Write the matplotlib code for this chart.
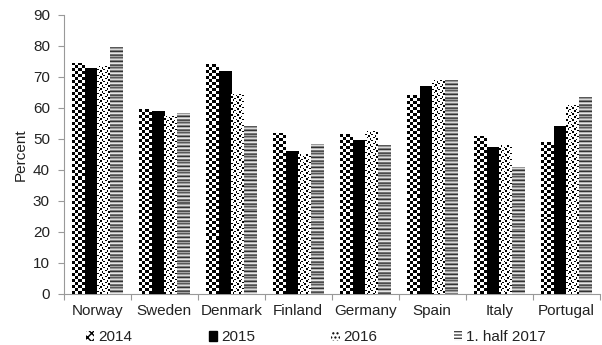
import numpy as np
import matplotlib
matplotlib.use("Agg")
import matplotlib.pyplot as plt
from matplotlib.patches import Patch

plt.rcParams['font.family'] = ['Liberation Sans', 'DejaVu Sans']

countries = ["Norway", "Sweden", "Denmark", "Finland", "Germany", "Spain", "Italy", "Portugal"]
series_names = ["2014", "2015", "2016", "1. half 2017"]
v2014 = [74.5, 59.5, 74.0, 52.0, 51.5, 64.0, 51.0, 49.0]
v2015 = [73.0, 59.0, 72.0, 46.0, 49.5, 67.0, 47.5, 54.0]
v2016 = [73.5, 57.5, 64.5, 45.0, 52.5, 69.0, 48.0, 61.0]
v2017 = [79.5, 58.5, 54.0, 48.5, 48.0, 69.0, 41.0, 63.5]

# texture tiles (1 = white, 0 = black, greys in between)
checker = np.array([[0, 1], [1, 0]], dtype=float)
solid = np.array([[0.0]])
dots = np.array([[1, 0, 1, 1],
                 [1, 1, 1, 0],
                 [0, 1, 1, 1],
                 [1, 1, 0, 1]], dtype=float)
stripes = np.array([[0.35], [0.6], [0.85], [0.5], [0.2], [0.7], [0.9], [0.45], [0.3], [0.65]])
tiles = [(checker, 3.0), (solid, 3.0), (dots, 1.5), (stripes, 1.0)]

fig = plt.figure(figsize=(6.02, 3.45), dpi=100)
ax = fig.add_axes([0.106, 0.148, 0.89, 0.809])

x = np.arange(len(countries))
bw = 0.1875
px_per_x = 0.89 * 602 / 8.0
px_per_y = 0.809 * 345 / 90.0

for i, vals in enumerate([v2014, v2015, v2016, v2017]):
    bars = ax.bar(x + (i - 1.5) * bw, vals, width=bw, color='white',
                  edgecolor='none', zorder=2)
    tile, cell = tiles[i]
    for b in bars:
        bx, bwid, bh = b.get_x(), b.get_width(), b.get_height()
        nx = max(1, int(round(bwid * px_per_x / cell)))
        ny = max(1, int(round(bh * px_per_y / cell)))
        reps = (ny // tile.shape[0] + 1, nx // tile.shape[1] + 1)
        arr = np.tile(tile, reps)[:ny, :nx]
        im = ax.imshow(arr, extent=(bx, bx + bwid, 0, bh), cmap='gray', vmin=0, vmax=1,
                       interpolation='nearest', aspect='auto', origin='upper', zorder=3)
        im.set_clip_path(b)

fs = 11
ax.set_xlim(-0.5, len(countries) - 0.5)
ax.set_ylim(0, 90)
ax.set_yticks(range(0, 91, 10))
ax.set_xticks(x)
ax.set_xticklabels(countries, fontsize=fs)
ax.set_xticks(np.arange(-0.5, len(countries), 1.0), minor=True)
ax.tick_params(axis='x', which='major', length=0, pad=7)
ax.tick_params(axis='x', which='minor', length=4, color='#999999', width=0.8)
ax.tick_params(axis='y', length=4, color='#999999', width=0.8, labelsize=fs, pad=6,
               labelcolor='#222222')
ax.tick_params(axis='x', labelcolor='#222222')
for s in ['top', 'right']:
    ax.spines[s].set_visible(False)
for s in ['left', 'bottom']:
    ax.spines[s].set_color('#999999')
    ax.spines[s].set_linewidth(0.8)
ax.set_ylabel("Percent", fontsize=fs, color='#222222', labelpad=4)

handles = [Patch(facecolor='white', edgecolor='black', hatch='xxxx', linewidth=0),
           Patch(facecolor='black', edgecolor='black'),
           Patch(facecolor='white', edgecolor='black', hatch='....', linewidth=0),
           Patch(facecolor='white', edgecolor='#444444', hatch='-----', linewidth=0)]
fig.legend(handles, series_names, loc='lower left', bbox_to_anchor=(0.12, -0.038),
           ncol=4, frameon=False, fontsize=fs, handlelength=0.55, handleheight=0.55,
           handletextpad=0.25, columnspacing=5.0, labelcolor='#222222')

fig.savefig("out.png", dpi=100)
